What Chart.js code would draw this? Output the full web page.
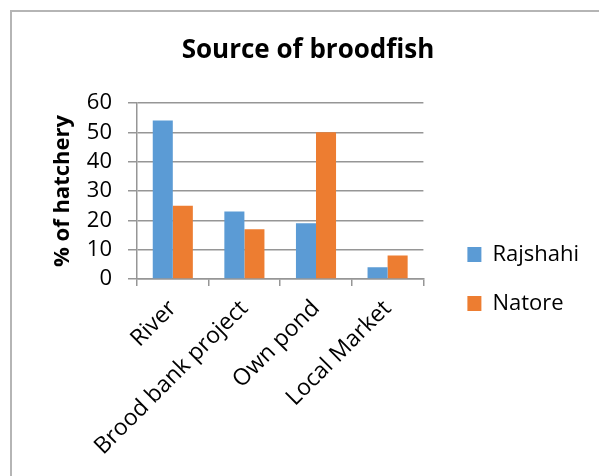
<!DOCTYPE html>
<html>
<head>
<meta charset="utf-8">
<script src="https://cdn.jsdelivr.net/npm/chart.js@4/dist/chart.umd.min.js"></script>
<style>
  html, body { margin: 0; padding: 0; background: #fff; overflow: hidden; width: 599px; height: 476px; }
  #frame { position: absolute; left: 10px; top: 10px; width: 700px; height: 600px; border: 2px solid #b5b5b5; box-sizing: border-box; }
  #c { position: absolute; left: 0; top: 0; }
</style>
</head>
<body>
<div id="frame"></div>
<canvas id="c" width="599" height="476"></canvas>
<script>
const chartTitle = "Source of broodfish";
const yAxisTitle = "% of hatchery";
const categories = ["River", "Brood bank project", "Own pond", "Local Market"];
const seriesNames = ["Rajshahi", "Natore"];
const rajshahi = [54, 23, 19, 4];
const natore = [25, 17, 50, 8];
const yTicks = [0, 10, 20, 30, 40, 50, 60];

const FONT = "'Open Sans', 'Noto Sans', 'DejaVu Sans', sans-serif";
const GRID = "#969696";

new Chart(document.getElementById("c"), {
  type: "bar",
  data: {
    labels: categories,
    datasets: [
      { label: seriesNames[0], data: rajshahi, backgroundColor: "#5B9BD5", borderWidth: 0, categoryPercentage: 0.56, barPercentage: 1.0 },
      { label: seriesNames[1], data: natore, backgroundColor: "#ED7D31", borderWidth: 0, categoryPercentage: 0.56, barPercentage: 1.0 }
    ]
  },
  options: {
    responsive: false,
    devicePixelRatio: 1,
    animation: false,
    layout: { padding: { left: 27, right: 10, top: 0, bottom: 0 } },
    plugins: {
      title: {
        display: true,
        text: chartTitle,
        color: "#000",
        font: { family: FONT, size: 26, weight: "bold" },
        padding: { top: 35.4, bottom: 36.4 }
      },
      legend: {
        display: true,
        position: "right",
        align: "center",
        maxWidth: 220,
        title: { display: true, text: " ", font: { family: FONT, size: 10 }, padding: { top: 0, bottom: 70 } },
        labels: {
          color: "#000",
          font: { family: FONT, size: 22 },
          boxWidth: 14,
          boxHeight: 15,
          padding: 27
        }
      },
      tooltip: { enabled: false }
    },
    scales: {
      x: {
        offset: true,
        grid: { display: true, drawOnChartArea: false, drawTicks: true, tickLength: 7, color: GRID, lineWidth: 1.5, offset: true },
        border: { display: true, color: GRID, width: 1.5 },
        ticks: { color: "#000", font: { family: FONT, size: 23 }, minRotation: 45, maxRotation: 45, padding: 9, autoSkip: false },
        afterFit: (s) => { s.height = 197; }
      },
      y: {
        min: 0,
        max: 60,
        afterBuildTicks: (s) => { s.ticks = yTicks.map(v => ({ value: v })); },
        grid: { color: GRID, lineWidth: 1.5, drawTicks: true, tickLength: 9 },
        border: { display: true, color: GRID, width: 1.5 },
        ticks: { color: "#000", font: { family: FONT, size: 22 }, padding: 16, autoSkip: false },
        title: { display: true, text: yAxisTitle, color: "#000", font: { family: FONT, size: 22, weight: "bold" }, padding: { top: 22.8, bottom: 4 } },
        afterFit: (s) => { s.width = 110; }
      },
      gap: {
        type: "linear",
        position: "right",
        display: true,
        grid: { display: false },
        border: { display: false },
        ticks: { display: false },
        afterFit: (s) => { s.width = 17; }
      }
    }
  }
});
</script>
</body>
</html>
